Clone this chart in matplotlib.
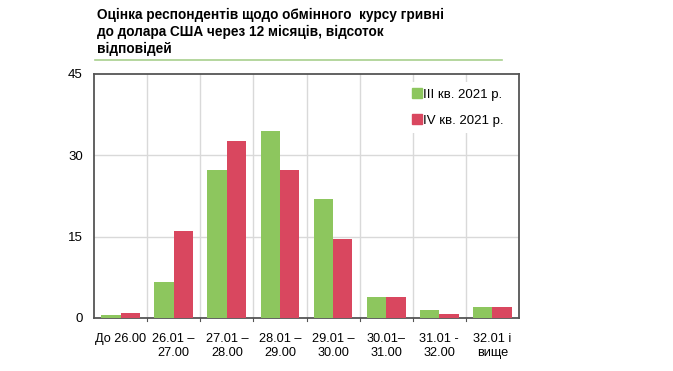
import numpy as np
import matplotlib
matplotlib.use("Agg")
import matplotlib.pyplot as plt
from matplotlib.lines import Line2D

plt.rcParams['font.family'] = ['Liberation Sans', 'DejaVu Sans']

categories = ["До 26.00", "26.01 –\n27.00", "27.01 –\n28.00", "28.01 –\n29.00",
              "29.01 –\n30.00", "30.01–\n31.00", "31.01 -\n32.00", "32.01 і\nвище"]
q3_2021 = [0.5, 6.6, 27.3, 34.5, 22.0, 3.8, 1.5, 2.0]
q4_2021 = [0.9, 16.1, 32.7, 27.3, 14.5, 3.8, 0.7, 2.0]
series_names = ["III кв. 2021 р.", "IV кв. 2021 р."]
y_ticks = [0, 15, 30, 45]

green = "#8DC65E"
red = "#D9475F"

fig = plt.figure(figsize=(6.73, 3.71), dpi=100)
ax = fig.add_axes([94 / 673, 1 - 318 / 371, (519 - 94) / 673, (318 - 74) / 371])

x = np.arange(len(categories))
w = 0.365
ax.bar(x - w / 2, q3_2021, w, color=green, zorder=3)
ax.bar(x + w / 2, q4_2021, w, color=red, zorder=3)

ax.set_xlim(-0.5, len(categories) - 0.5)
ax.set_ylim(0, 45)
ax.set_yticks(y_ticks)
ax.set_xticks(x)
ax.set_xticklabels(categories, fontsize=9.2, linespacing=1.15)
ax.tick_params(axis='x', length=0, pad=11)
ax.tick_params(axis='y', length=0, pad=8, labelsize=9.5)

# grid: horizontal at ticks, vertical at category boundaries
for yv in y_ticks[1:-1]:
    ax.axhline(yv, color="#d9d9d9", lw=1, zorder=1)
for xv in np.arange(0.5, len(categories) - 0.5, 1):
    ax.axvline(xv, color="#d9d9d9", lw=1, zorder=1)
    ax.plot([xv, xv], [0, -0.6], color="#555555", lw=0.8, clip_on=False, zorder=4)

for s in ax.spines.values():
    s.set_color("#555555")
    s.set_linewidth(1.3)

handles = [Line2D([], [], marker='s', ls='', color=green, markersize=6.5),
           Line2D([], [], marker='s', ls='', color=red, markersize=6.5)]
leg = ax.legend(handles, series_names, loc='upper right', bbox_to_anchor=(0.995, 0.995),
                frameon=True, fontsize=9.5, handletextpad=0.0, labelspacing=1.05,
                handlelength=1.0, borderpad=0.5, fancybox=False)
leg.get_frame().set_edgecolor('none')
leg.get_frame().set_facecolor('white')
leg.get_frame().set_alpha(1)
leg.set_zorder(5)

fig.text(97 / 673, 1 - 8 / 371,
         "Оцінка респондентів щодо обмінного  курсу гривні\nдо долара США через 12 місяців, відсоток\nвідповідей",
         fontsize=9.8, fontweight='bold', va='top', ha='left', linespacing=1.25)
fig.add_artist(Line2D([95 / 673, 502 / 673], [1 - 60 / 371, 1 - 60 / 371],
                      color="#a8d08d", lw=1.2))

fig.savefig("out.png", dpi=100)
